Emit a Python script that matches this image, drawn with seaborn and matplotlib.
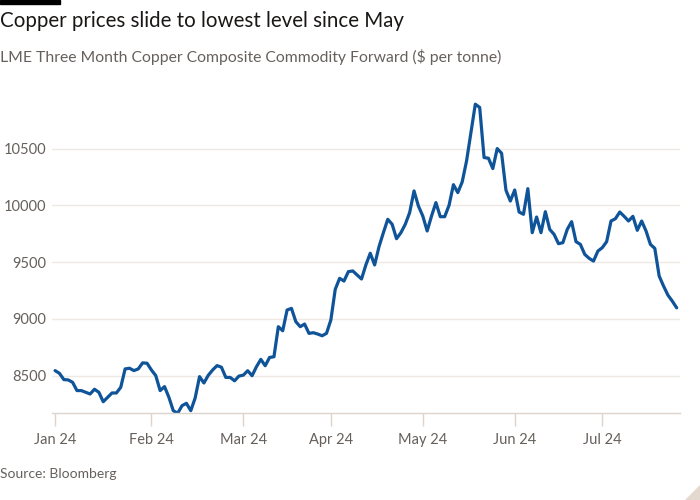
import pandas as pd
import matplotlib.pyplot as plt
import matplotlib.patches as mpatches
import seaborn as sns

# 读取的数据 (LME 三个月铜价, 美元/吨, 按交易日)
jan = [8544, 8520, 8465, 8462, 8441, 8368, 8368, 8353, 8338, 8380, 8353,
       8270, 8309, 8347, 8347, 8397, 8559, 8565, 8544, 8559, 8612, 8609]
feb = [8550, 8500, 8368, 8403, 8309, 8191, 8168, 8235, 8256, 8191, 8303,
       8491, 8435, 8503, 8550, 8588, 8574, 8484, 8484, 8454, 8496]
mar = [8504, 8543, 8499, 8578, 8643, 8587, 8660, 8666, 8931, 8895, 9078,
       9092, 8975, 8931, 8954, 8872, 8878, 8866, 8851, 8872]
apr = [8990, 9260, 9357, 9333, 9416, 9422, 9386, 9351, 9475, 9578, 9475,
       9636, 9759, 9877, 9833, 9706, 9759, 9833, 9936, 10127, 9994]
may = [9906, 9774, 9906, 10024, 9900, 9900, 10000, 10182, 10112, 10206, 10391,
       10641, 10891, 10862, 10421, 10415, 10324, 10500, 10459, 10133, 10038]
jun = [10135, 9941, 9921, 10147, 9759, 9897, 9759, 9944, 9788, 9744,
       9662, 9671, 9788, 9856, 9680, 9656, 9568, 9533, 9509, 9597]
jul = [9627, 9680, 9862, 9882, 9941, 9903, 9862, 9903, 9780, 9862,
       9774, 9656, 9621, 9377, 9289, 9209, 9156, 9097]

month_labels = ['Jan 24', 'Feb 24', 'Mar 24', 'Apr 24', 'May 24', 'Jun 24', 'Jul 24']
y_ticks = [8500, 9000, 9500, 10000, 10500]

title = 'Copper prices slide to lowest level since May'
subtitle = 'LME Three Month Copper Composite Commodity Forward ($ per tonne)'
source = 'Source: Bloomberg'

# 组装数据 (x 为交易日序号)
months = [jan, feb, mar, apr, may, jun, jul]
prices = [v for m in months for v in m]
data = pd.DataFrame({'day': range(len(prices)), 'price': prices})

# 每个月第一个交易日的位置
month_starts = []
pos = 0
for m in months:
    month_starts.append(pos)
    pos += len(m)

# 样式
sns.set_theme(style='white')
plt.rcParams['font.family'] = ['Lato', 'DejaVu Sans']
grey = '#66605c'

fig = plt.figure(figsize=(7, 5), dpi=100)
ax = fig.add_axes([0.074, 0.175, 0.898, 0.655])

sns.lineplot(data=data, x='day', y='price', ax=ax, color='#0f5499', linewidth=2.3)

ax.set_xlim(-0.75, len(prices) - 0.15)
ax.set_ylim(8175, 11060)
ax.set_yticks(y_ticks)
ax.set_yticklabels([str(t) for t in y_ticks])
ax.set_xticks(month_starts)
ax.set_xticklabels(month_labels)
ax.set_xlabel('')
ax.set_ylabel('')

# 网格线和坐标轴
ax.grid(True, axis='y', color='#efe9e3', linewidth=1)
ax.grid(False, axis='x')
for side in ['top', 'right', 'left']:
    ax.spines[side].set_visible(False)
ax.spines['bottom'].set_color('#ddd5cd')
ax.spines['bottom'].set_linewidth(1)
ax.tick_params(axis='y', length=0, pad=4, labelsize=10.5, labelcolor=grey)
ax.tick_params(axis='x', bottom=True, length=9, width=1, color='#ddd5cd',
               pad=6, labelsize=10.5, labelcolor=grey)

# 标题, 副标题, 来源
fig.text(0.0, 0.958, title, fontsize=14.8, color='#1a1817', va='center', ha='left')
fig.text(0.0, 0.886, subtitle, fontsize=11.3, color=grey, va='center', ha='left')
fig.text(0.0, 0.052, source, fontsize=10, color=grey, va='center', ha='left')

# 左上角黑条和右下角折角
fig.add_artist(mpatches.Rectangle((0, 1 - 4 / 500), 60 / 700, 4 / 500,
                                  transform=fig.transFigure, color='black'))
fig.add_artist(mpatches.Polygon([(685 / 700, 0), (1, 0), (1, 15 / 500)],
                                transform=fig.transFigure, color='#e3d9cf'))

plt.savefig('out.png', dpi=100)
plt.close()
